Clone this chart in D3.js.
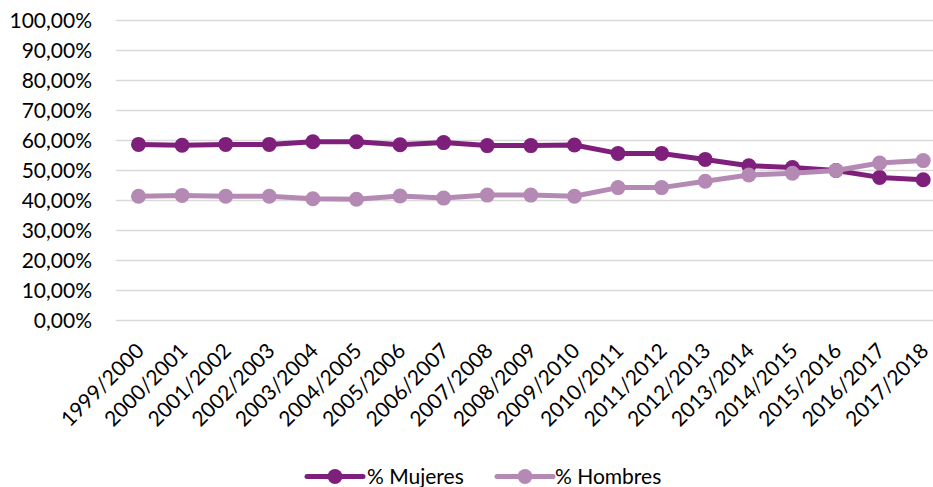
<!DOCTYPE html>
<html><head><meta charset="utf-8">
<script src="https://cdn.jsdelivr.net/npm/d3@7"></script>
<style>body{margin:0;background:#fff}svg{display:block}text{font-family:Lato,"Open Sans",sans-serif}</style>
</head><body>
<svg id="c" width="933" height="487"></svg>
<script>
const categories = ["1999/2000","2000/2001","2001/2002","2002/2003","2003/2004","2004/2005","2005/2006","2006/2007","2007/2008","2008/2009","2009/2010","2010/2011","2011/2012","2012/2013","2013/2014","2014/2015","2015/2016","2016/2017","2017/2018"];
const mujeres = [58.7,58.4,58.7,58.7,59.6,59.6,58.6,59.3,58.3,58.3,58.5,55.7,55.7,53.7,51.6,51.0,50.0,47.7,46.9];
const hombres = [41.4,41.7,41.4,41.4,40.6,40.4,41.5,40.8,41.8,41.8,41.4,44.3,44.3,46.4,48.5,49.1,50.0,52.5,53.3];
const yTicks = [0,10,20,30,40,50,60,70,80,90,100];
const seriesNames = ["% Mujeres","% Hombres"];
const colors = ["#7f1f7c","#b48ab4"];

const svg = d3.select("#c");
const x = d3.scaleBand().domain(categories).range([116.7, 945]);
const y = d3.scaleLinear().domain([0,100]).range([320.5, 20.5]);
const fmt = v => v.toFixed(2).replace(".", ",") + "%";

// gridlines
svg.append("g").selectAll("line").data(yTicks).join("line")
  .attr("x1", 116).attr("x2", 933)
  .attr("y1", d => y(d)).attr("y2", d => y(d))
  .attr("stroke", "#d9d9d9").attr("stroke-width", 1.3);

// y labels
const yAxis = svg.append("g").attr("transform","translate(92,0)")
  .call(d3.axisLeft(y).tickValues(yTicks).tickFormat(fmt).tickSize(0).tickPadding(0));
yAxis.select(".domain").remove();
yAxis.selectAll("text").attr("font-size", 21).attr("fill", "#000").attr("dy","0.35em").attr("font-family","Lato,sans-serif");

// x labels
const xAxis = svg.append("g").attr("transform","translate(0,320.5)")
  .call(d3.axisBottom(x).tickSize(0).tickPadding(0));
xAxis.select(".domain").remove();
xAxis.selectAll("text")
  .attr("font-size", 21).attr("fill","#000").attr("font-family","Lato,sans-serif")
  .attr("text-anchor","end").attr("dy", null).attr("y", 0).attr("x", 0)
  .attr("transform","translate(3,28) rotate(-45)")
  .attr("dominant-baseline","middle");

const line = d3.line().x((d,i) => x(categories[i]) + x.bandwidth()/2).y(d => y(d));
[mujeres, hombres].forEach((s, k) => {
  const g = svg.append("g");
  g.append("path").datum(s).attr("d", line).attr("fill","none")
    .attr("stroke", colors[k]).attr("stroke-width", 5).attr("stroke-linejoin","round");
  g.selectAll("circle").data(s).join("circle")
    .attr("cx", (d,i) => x(categories[i]) + x.bandwidth()/2)
    .attr("cy", d => y(d)).attr("r", 7.5).attr("fill", colors[k]);
});

// legend
const leg = [{x:307, tx:367},{x:497, tx:555}];
seriesNames.forEach((n,k) => {
  const g = svg.append("g");
  g.append("line").attr("x1", leg[k].x).attr("x2", leg[k].x + 56).attr("y1", 476.5).attr("y2", 476.5)
    .attr("stroke", colors[k]).attr("stroke-width", 5).attr("stroke-linecap","round");
  g.append("circle").attr("cx", leg[k].x + 28).attr("cy", 476.5).attr("r", 7.5).attr("fill", colors[k]);
  g.append("text").attr("x", leg[k].tx).attr("y", 476.5).attr("dy","0.35em")
    .attr("font-size", 21).attr("fill","#000").text(n);
});
</script>
</body></html>
